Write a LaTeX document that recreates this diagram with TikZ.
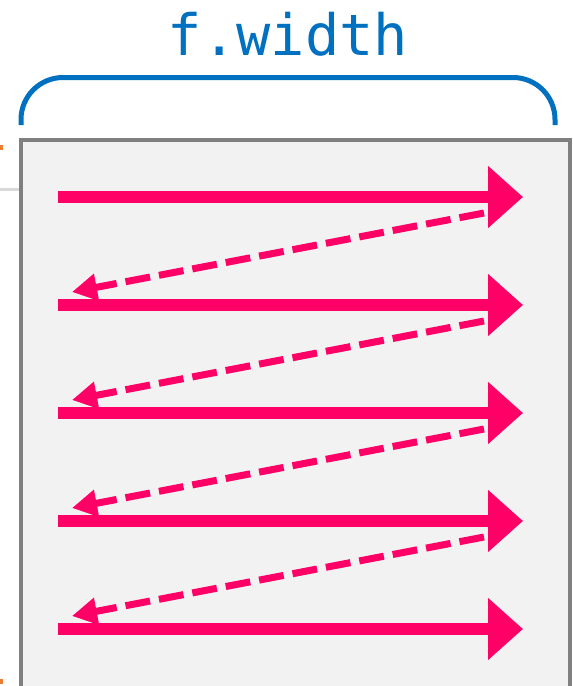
\documentclass[tikz,border=0pt]{standalone}
\usepackage{fontspec}
\newfontfamily\codefont{DejaVu Sans Mono}
\usetikzlibrary{arrows.meta}

\definecolor{rowpink}{HTML}{FF0066}
\definecolor{bracketblue}{HTML}{0070C0}
\definecolor{framegray}{HTML}{808080}
\definecolor{framefill}{HTML}{F2F2F2}
\definecolor{edgeorange}{HTML}{ED7D31}
\definecolor{guidegray}{HTML}{D9D9D9}

\begin{document}
\begin{tikzpicture}[
  x=1pt, y=-1pt,
  frame/.style={
    draw=framegray,
    line width=4pt,
    fill=framefill
  },
  bracket/.style={
    draw=bracketblue,
    line width=5pt,
    rounded corners=42pt
  },
  rowarrow/.style={
    draw=rowpink,
    line width=12pt,
    -{Triangle[length=35pt,width=60pt]}
  },
  backarrow/.style={
    draw=rowpink,
    line width=7pt,
    dash pattern=on 25pt off 9pt,
    -{Triangle[length=25pt,width=26pt]}
  },
  label/.style={
    text=bracketblue,
    font=\codefont\fontsize{57}{60}\selectfont,
    anchor=base
  }
]

\useasboundingbox (0,0) rectangle (573,686);
\clip (0,0) rectangle (573,686);

% cut-off bits at the left edge
\fill[edgeorange] (0,145) rectangle (3,150);
\fill[edgeorange] (0,679) rectangle (3,684);
\draw[guidegray, line width=3pt] (0,189) -- (20,189);

% the block
\draw[frame] (21,140) rectangle (570,720);

% width bracket and its label
\draw[bracket] (21,125) |- (288,77.5) -| (555,125);
\node[label] (width) at (288,55) {f.width};

% rows, left to right
\foreach \i in {0,...,4} {
  \coordinate (rowL\i) at (58,197+108*\i);
  \coordinate (rowR\i) at (523,197+108*\i);
  \draw[rowarrow] (rowL\i) -- (rowR\i);
}

% jumps back to the next row
\foreach \i in {0,...,3} {
  \coordinate (backS\i) at (484,213+108*\i);
  \coordinate (backE\i) at (72,292+108*\i);
  \draw[backarrow] (backS\i) -- (backE\i);
}

\end{tikzpicture}
\end{document}
